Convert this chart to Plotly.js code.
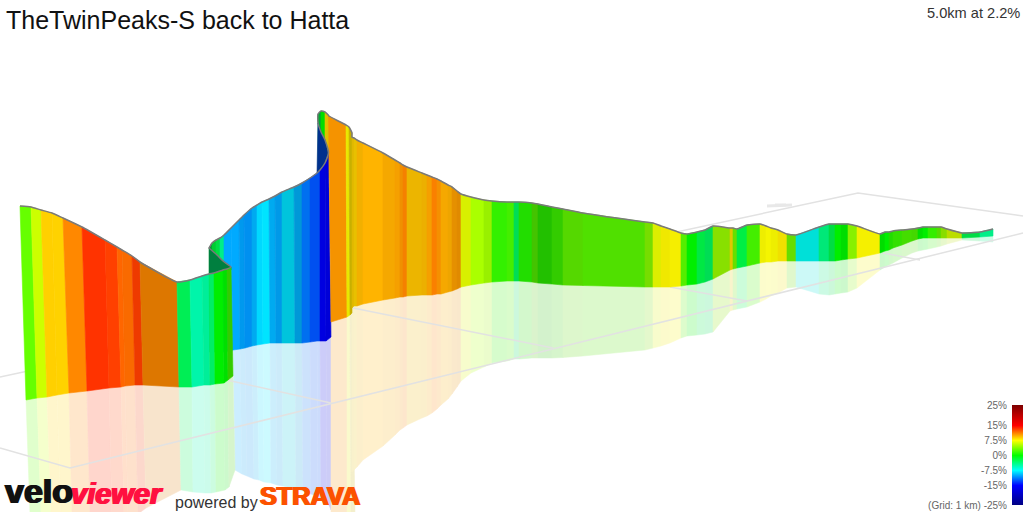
<!DOCTYPE html>
<html>
<head>
<meta charset="utf-8">
<script src="https://cdn.plot.ly/plotly-3.0.1.min.js"></script>
<style>html,body{margin:0;padding:0;background:#fff}#chart{width:1024px;height:512px}</style>
</head>
<body>
<div id="chart"></div>
<script>
// Values: crest, foot and reflection edge of each wall station.
var aCrestX=[20,31,41,52,63,82,105,117,122,132,140,177,190,202,209,214,223,227,231];
var aCrestY=[206,207,210,213,218,227,240,247,250,256,262,282,280,276,274,273,270,269,267];
var aFootX=[26,37,47,57,69,87,109,121,125,135,143,179,192,204,210,215,224,228,233];
var aFootY=[400,398,397,395,393,391,388,387,386,385,385,387,387,385,385,384,383,380,376];
var aShadowX=[30,41,51,61,72,90,112,124,128,138,146,181,193,205,211,216,225,229,235];
var aShadowY=[514,514,514,514,514,514,514,514,514,514,508,490,492,493,493,492,490,487,470];
var aColors=['#66ff00','#ccff00','#ffd000','#ffd200','#ff8800','#ff3300','#ff4000','#ff6600','#f96a00','#ee3a00','#dd7700','#00ee55','#00f5aa','#00ee99','#00ee66','#00ee00','#00e000','#33cc00'];

var cCrestX=[209,212,216,220,224,231,239,244,252,257,262,269,275,282,294,302,310,317,320,325,328.5];
var cCrestY=[248,243,240,238,235,228,220,215,208,205,202,199,196,192,187,183,178,173,170,163,153];
var cFootX=[209,212,216,220,224,233,240,245,252,257,263,270,276,282,295,302,310,317,320,326,331];
var cFootY=[352,352,352,352,352,350,349,348,346,345,344,343,343,343,343,343,342,341,341,341,337];
var cShadowX=[null,null,null,null,null,235,242,247,254,259,264,271,277,283,296,303,311,318,321,327,331];
var cShadowY=[null,null,null,null,null,470,474,476,479,480,482,483,485,486,489,491,494,497,498,500,510];
var cColors=['#009933','#00cc33','#00dd44','#00ee88','#00aaff','#00aaff','#0099ee','#0090f0','#00aaf0','#00d8ff','#00e4ff','#00aaf0','#0099e8','#00c4dc','#0098d8','#0070f0','#0050f0','#0050f0','#0000e0','#0000d8'];

var tCrestX=[318,321,325,329];
var tCrestY=[114,111,112,116];
var tFootX=[318,321,325,329];
var tFootY=[178,178,178,178];
var tColors=['#00aa33','#00dd00','#e0c000'];

var dCrestX=[328.5,346,349,352];
var dCrestY=[116,125,127,133];
var dFootX=[331,347,350,352];
var dFootY=[322,317,315,313];
var dShadowX=[331,347,351,355];
var dShadowY=[514,514,514,514];
var dColors=['#f59300','#e8e800','#c8b000'];

var eX=[352,354,357,363,383,395,400,403,407,422,427,432,437,441,448,452,457,461,471,484,492,507,514,519,532,538,552,563,583,645,653,661,670,681,687,697,705,713,730,733,737,747,760,766,771,778,787,796,819,829,835,841,848,857,880,885,889,893,902,912,918,923,928,937,941,947,962,980,993];
var eCrestY=[137,138,140,143,153,160,163,165,167,173,175,177,179,181,185,187,191,194,197,200,201,202,202,202,203,204,207,209,213,222,223,226,229,233,234,232,230,226,228,228,229,225,224,226,228,230,234,235,227,224,224,224,224,226,234,232,232,231,230,229,228,227,227,227,227,229,233,232,229];
var eFootY=[308,306,306,304,300,298,297,297,296,295,295,295,294,294,292,291,289,287,285,283,282,281,281,281,282,283,284,285,285.5,287,287,287,287,286,285,284,282,279,270,269,268,266,263,262,262,261,261,261,261,261,261,260,259,258,253,251,250,248,245,241,239,238,238,238,238,238,238,237,236];
var eShadowY=[472,470,467,460,446,435,430,428,425,418,416,413,409,405,399,394,387,381,373,367,363,361,359,359,358,358,358,357.5,356,350,348,346,343,338,336,335,334,332,311,310,309,307,302,299,296,293,288,287,294,295,294,293,292,288,270,267,265,263,258,253,251,250,249,247,246,244,240,241,242];
var eColors=['#e0b800','#e8c000','#f2b000','#ffb400','#f5a800','#f5a000','#f09000','#f58000','#ecb500','#ecb000','#f5a000','#fa8000','#f59000','#f5a800','#eea500','#e59000','#e08a00','#d8f000','#aaff00','#99f000','#33f000','#44ee00','#00dd55','#22dd00','#44c400','#22c000','#33cc00','#55d800','#50e000','#77dd00','#ddee00','#f0e800','#f5ee00','#55ee00','#00ee00','#00e844','#00dd55','#88e000','#e0c800','#66e000','#00ee44','#44ee00','#eeee00','#f5f500','#eeee00','#f0e000','#66dd00','#00e0d8','#00e878','#00dd44','#00ee00','#00dd00','#88f000','#f5f000','#00dd00','#00ee00','#22dd00','#33e000','#44dd00','#44d800','#00e000','#00ee00','#33ee00','#55dd00','#88dd00','#bbdd00','#00dd44','#00ee88'];

var greenBackX=[209,217,223,231,231,209];
var greenBackY=[248,255,261,267,270,275];
var navyBackX=[318,321,325,328,325,320,317,318];
var navyBackY=[123,132,140,153,163,170,173,123];

var gridX=[0,70,1023,null,0,858,1023,null,200,331,null,353,553,null,670,747,null,883,920];
var gridY=[448,468,233,null,377,193,216,null,374,403,null,308,348,null,287,301,null,253,260];
var smudgeX=[767,792,null,775,786];
var smudgeY=[206,205,null,205,205];

var legendGrades=[-25,-22.5,-20,-17.5,-15,-12.5,-10,-7.5,-5,-2.5,0,2.5,5,7.5,10,12.5,15,17.5,20,22.5,25];
var legendTicks=[25,15,7.5,0,-7.5,-15,-25];
var legendLabels=['25%','15%','7.5%','0%','-7.5%','-15%','(Grid: 1 km) -25%'];
var legendScale=[[0,'#00007f'],[0.2,'#0000ff'],[0.35,'#00ffff'],[0.5,'#00ff00'],[0.65,'#ffff00'],[0.8,'#ff0000'],[1,'#7f0000']];

var titleText='TheTwinPeaks-S back to Hatta';
var summaryText='5.0km at 2.2%';

function pale(hex,a){
  var r=parseInt(hex.substr(1,2),16),g=parseInt(hex.substr(3,2),16),b=parseInt(hex.substr(5,2),16);
  return 'rgb('+Math.round(255-(255-r)*a)+','+Math.round(255-(255-g)*a)+','+Math.round(255-(255-b)*a)+')';
}
function poly(xs,ys,color,w){
  return {type:'scatter',mode:'lines',x:xs,y:ys,fill:'toself',fillcolor:color,
    line:{color:color,width:w===undefined?0.6:w},hoverinfo:'skip',showlegend:false};
}
function wall(cx,cy,fx,fy,colors){
  var out=[];
  for(var i=0;i<colors.length;i++){
    out.push(poly([cx[i],cx[i+1],fx[i+1],fx[i],cx[i]],[cy[i],cy[i+1],fy[i+1],fy[i],cy[i]],colors[i]));
  }
  return out;
}
function shadow(fx,fy,sx,sy,colors){
  var out=[];
  for(var i=0;i<colors.length;i++){
    if(sx[i]===null||sx[i+1]===null) continue;
    out.push(poly([fx[i],fx[i+1],sx[i+1],sx[i],fx[i]],[fy[i],fy[i+1],sy[i+1],sy[i],fy[i]],pale(colors[i],0.2),0.5));
  }
  return out;
}
var traces=[];
traces=traces.concat(shadow(cFootX,cFootY,cShadowX,cShadowY,cColors));
traces=traces.concat(shadow(aFootX,aFootY,aShadowX,aShadowY,aColors));
traces=traces.concat(shadow(dFootX,dFootY,dShadowX,dShadowY,dColors));
traces=traces.concat(shadow(eX,eFootY,eX,eShadowY,eColors));
traces.push({type:'scatter',mode:'lines',x:gridX,y:gridY,line:{color:'#e2e2e2',width:1.5},hoverinfo:'skip',showlegend:false,connectgaps:false});
traces.push({type:'scatter',mode:'lines',x:smudgeX,y:smudgeY,line:{color:'#e8e8e8',width:3},hoverinfo:'skip',showlegend:false});
traces=traces.concat(wall(tCrestX,tCrestY,tFootX,tFootY,tColors));
traces=traces.concat(wall(cCrestX,cCrestY,cFootX,cFootY,cColors));
traces.push(poly(navyBackX,navyBackY,'#00308c'));
traces.push(poly(greenBackX,greenBackY,'#007f3f'));
traces=traces.concat(wall(aCrestX,aCrestY,aFootX,aFootY,aColors));
traces=traces.concat(wall(dCrestX,dCrestY,dFootX,dFootY,dColors));
traces=traces.concat(wall(eX,eCrestY,eX,eFootY,eColors));

var outlineX=aCrestX.concat(greenBackX.slice(0,3).reverse()).concat(cCrestX).concat(navyBackX.slice(0,3).reverse()).concat(tCrestX).concat(dCrestX).concat(eX);
var outlineY=aCrestY.concat(greenBackY.slice(0,3).reverse()).concat(cCrestY).concat(navyBackY.slice(0,3).reverse()).concat(tCrestY).concat(dCrestY).concat(eCrestY);
traces.push({type:'scatter',mode:'lines',x:outlineX,y:outlineY,line:{color:'#7a7a7a',width:1.5,shape:'spline',smoothing:0.5},hoverinfo:'skip',showlegend:false});

traces.push({type:'heatmap',xaxis:'x2',yaxis:'y2',x:[0,1],y:legendGrades,
  z:legendGrades.map(function(g){return [g,g];}),zmin:-25,zmax:25,zsmooth:'best',colorscale:legendScale,showscale:false,hoverinfo:'skip'});

var sans='"Liberation Sans", Arial, sans-serif';
var layout={
  width:1024,height:512,margin:{l:0,r:0,t:0,b:0},paper_bgcolor:'#fff',plot_bgcolor:'#fff',showlegend:false,
  title:{text:titleText,x:6/1024,xanchor:'left',xref:'paper',y:1-20/512,yanchor:'middle',yref:'container',font:{family:sans,size:25,color:'#111'}},
  xaxis:{range:[0,1024],visible:false,fixedrange:true},
  yaxis:{range:[512,0],visible:false,fixedrange:true},
  xaxis2:{domain:[1012/1024,1023/1024],range:[0,1],visible:false,anchor:'y2',fixedrange:true},
  yaxis2:{domain:[7/512,107/512],range:[-25,25],anchor:'x2',side:'left',tickvals:legendTicks,ticktext:legendLabels,ticklabelstandoff:4,
    ticks:'',showgrid:false,zeroline:false,showline:false,tickfont:{family:sans,size:10,color:'#666'},fixedrange:true},
  annotations:[
    {text:summaryText,x:1022,y:13,xref:'x',yref:'y',xanchor:'right',yanchor:'middle',showarrow:false,font:{family:sans,size:14.6,color:'#333'}},
    {text:'<b>velo</b>',x:3,y:512,xref:'x',yref:'y',xanchor:'left',yanchor:'bottom',showarrow:false,
      font:{family:sans,size:34,color:'#111',shadow:'1px 0 0 #111, -1px 0 0 #111'}},
    {text:'<b><i>viewer</i></b>',x:69,y:512,xref:'x',yref:'y',xanchor:'left',yanchor:'bottom',showarrow:false,
      font:{family:sans,size:29,color:'#ff1040',shadow:'1px 0 0 #ff1040, -1px 0 0 #ff1040'}},
    {text:'powered by',x:173,y:502,xref:'x',yref:'y',xanchor:'left',yanchor:'middle',showarrow:false,font:{family:sans,size:16,color:'#333'}},
    {text:'<b>STRAVA</b>',x:258,y:512,xref:'x',yref:'y',xanchor:'left',yanchor:'bottom',showarrow:false,
      font:{family:sans,size:25.3,color:'#fc5200',shadow:'1px 0 0 #fc5200, -1px 0 0 #fc5200'}}
  ]
};
Plotly.newPlot('chart',traces,layout,{displayModeBar:false,staticPlot:true});
</script>
</body>
</html>
